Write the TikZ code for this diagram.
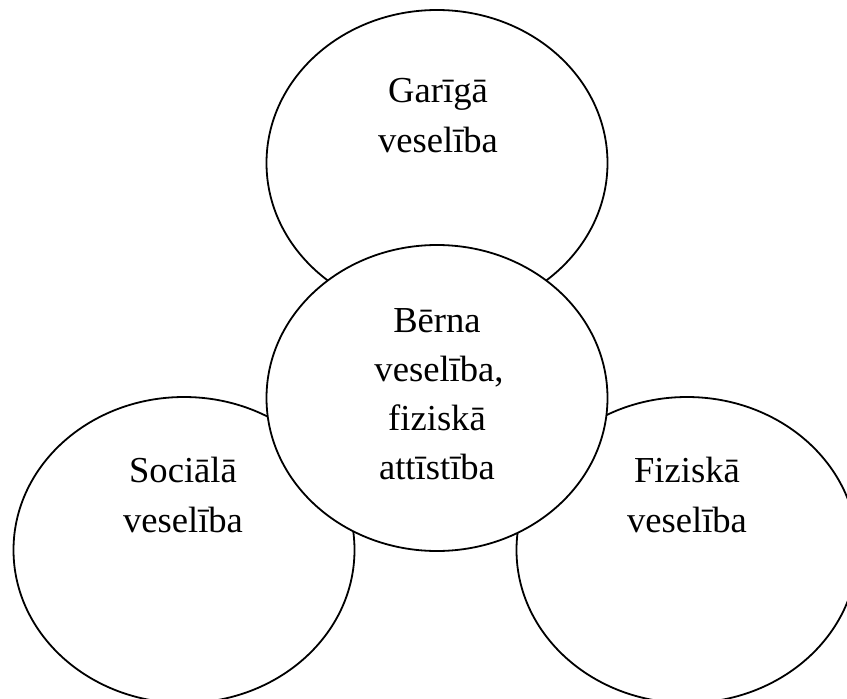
\documentclass[tikz,border=0pt]{standalone}
\usepackage{fontspec}
\setmainfont[Ligatures=NoCommon]{Liberation Serif}
\usetikzlibrary{shapes.geometric}
\begin{document}
\begin{tikzpicture}[x=1pt,y=-1pt,
  oval/.style={draw=black, line width=1.8pt, ellipse, fill=white, inner sep=0pt,
    minimum width=341pt, minimum height=306pt},
  lbl/.style={anchor=base, inner sep=0pt, font=\fontsize{36.6}{50}\selectfont}]
\useasboundingbox (0,0) rectangle (847,699);
\fill[white] (0,0) rectangle (847,699);
\node[oval] (top) at (437,163) {};
\node[oval] (left) at (184,550) {};
\node[oval] (right) at (687,550) {};
\node[oval] (mid) at (437,398) {};
% top labels
\node[lbl] (top1) at (438,102) {Garīgā};
\node[lbl] (top2) at (438,152) {veselība};
% center labels
\node[lbl] (mid1) at (437,332) {Bērna};
\node[lbl] (mid2) at (439,381) {veselība,};
\node[lbl] (mid3) at (437,430) {fiziskā};
\node[lbl] (mid4) at (437,479) {attīstība};
% left labels
\node[lbl] (left1) at (183,482) {Sociālā};
\node[lbl] (left2) at (183,532) {veselība};
% right labels
\node[lbl] (right1) at (687,482) {Fiziskā};
\node[lbl] (right2) at (687,532) {veselība};
\end{tikzpicture}
\end{document}
